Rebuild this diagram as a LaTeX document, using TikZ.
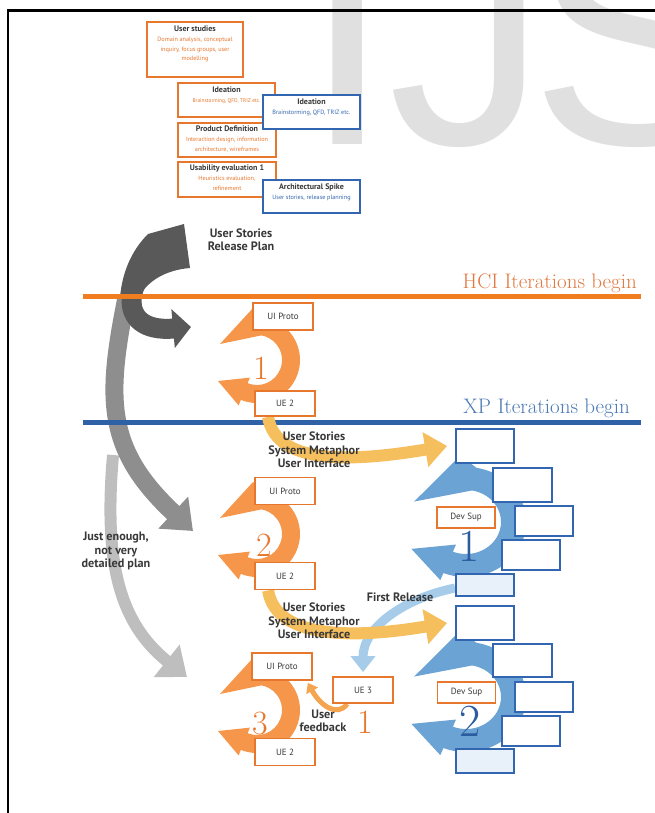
\documentclass[tikz,border=0pt]{standalone}
\usepackage{fontspec}
\newfontfamily\labelfont{PT Sans}
\newfontfamily\wmfont{Liberation Sans}
\usetikzlibrary{arrows.meta,positioning}

\definecolor{boxorange}{HTML}{E8772E}
\definecolor{cycorange}{HTML}{F5964A}
\definecolor{hciorange}{HTML}{F07D1F}
\definecolor{hcitext}{HTML}{E07840}
\definecolor{feedorange}{HTML}{F5A450}
\definecolor{storyyellow}{HTML}{F5BF5E}
\definecolor{xpblue}{HTML}{2E61A6}
\definecolor{xptext}{HTML}{4A78B2}
\definecolor{boxblue}{HTML}{3366B0}
\definecolor{cycblue}{HTML}{6BA3D4}
\definecolor{lightblue}{HTML}{A6CCEA}
\definecolor{paleblue}{HTML}{E8F1FA}
\definecolor{digitblue}{HTML}{2B5C9F}
\definecolor{darkgrey}{HTML}{595959}
\definecolor{midgrey}{HTML}{8E8E8E}
\definecolor{lightgrey}{HTML}{BEBEBE}
\definecolor{wmgrey}{HTML}{E0E0E0}
\definecolor{textgrey}{HTML}{383838}

\pgfdeclarelayer{background}
\pgfsetlayers{background,main}

\newcommand{\phtitle}[1]{{\color{textgrey}\bfseries\fontsize{8}{9}\selectfont #1}}

% one iteration swirl, local pixel offsets (y down)
\tikzset{
  cycle arrow/.pic={
    \fill[pic actions] (-37,-16) -- (-4,-52) -- (-80:43)
      arc[start angle=-80, end angle=112, radius=43] -- (112:49) -- (-39,21)
      -- (112:19) -- (112:25) arc[start angle=112, end angle=-80, radius=25] -- cycle;
  }
}

\begin{document}
\begin{tikzpicture}[x=1pt,y=-1pt,
  phase box/.style={draw=boxorange,line width=2pt,fill=white,inner sep=0pt},
  phase text/.style={inner sep=0pt,align=center,text=boxorange,
    font=\labelfont\fontsize{6.2}{9.6}\selectfont},
  hci box/.style={draw=boxorange,line width=1.8pt,fill=white,minimum width=60pt,
    minimum height=27pt,inner sep=0pt,text=textgrey,font=\labelfont\fontsize{9}{10}\selectfont},
  xp box/.style={draw=boxblue,line width=1.8pt,fill=white,minimum width=58pt,
    minimum height=30pt,inner sep=0pt},
  story text/.style={inner sep=0pt,align=center,text=textgrey,
    font=\labelfont\bfseries\fontsize{12.2}{13.4}\selectfont},
  deco/.style={inner sep=0pt,anchor=base east,font=\fontsize{21}{24}\selectfont},
  digit/.style={inner sep=0pt,text=boxorange,font=\fontsize{34}{34}\selectfont},
  big digit/.style={inner sep=0pt,text=digitblue,font=\fontsize{46}{46}\selectfont},
  wm letter/.style={inner sep=0pt,anchor=base west,text=wmgrey,
    font=\wmfont\fontsize{318}{318}\selectfont}]

\useasboundingbox (0,0) rectangle (655,813);

% phase boxes before the iterations
\node[phase box,minimum width=96pt,minimum height=55pt] (us) at (195,49.5) {};
\node[phase text,below=5pt of us.north] (us text) {\phtitle{User studies}\\Domain analysis, conceptual\\inquiry, focus groups, user\\modelling};
\node[phase box,minimum width=97pt,minimum height=34pt] (idea) at (226.5,100) {};
\node[phase text,font=\labelfont\fontsize{5.4}{9.6}\selectfont,below=5pt of idea.north] (idea text) {\phtitle{Ideation}\\Brainstorming, QFD, TRIZ etc.};
\node[phase box,minimum width=98pt,minimum height=34pt] (prod) at (227,140) {};
\node[phase text,below=4pt of prod.north] (prod text) {\phtitle{Product Definition}\\Interaction design, information\\architecture, wireframes};
\node[phase box,minimum width=98pt,minimum height=35pt] (ueone) at (227,179.5) {};
\node[phase text,below=4pt of ueone.north] (ueone text) {\phtitle{Usability evaluation 1}\\Heuristics evaluation,\\refinement};
\node[phase box,draw=boxblue,minimum width=97pt,minimum height=34pt] (xpidea) at (311.5,112) {};
\node[phase text,text=boxblue,below=5pt of xpidea.north] (xpidea text) {\phtitle{Ideation}\\Brainstorming, QFD, TRIZ etc.};
\node[phase box,draw=boxblue,minimum width=97pt,minimum height=33pt] (spike) at (311.5,196.5) {};
\node[phase text,text=boxblue,below=5pt of spike.north] (spike text) {\phtitle{Architectural Spike}\\User stories, release planning};

% HCI iterations
\node[hci box] (uip1) at (283,316.5) {UI Proto};
\node[hci box,minimum height=25pt] (uetwo1) at (285,403.5) {UE 2};
\node[hci box] (uip2) at (285,491) {UI Proto};
\node[hci box] (uetwo2) at (285,576) {UE 2};
\node[hci box] (uip3) at (282,666.5) {UI Proto};
\node[hci box,minimum height=26pt] (ue3) at (363,690) {UE 3};
\node[hci box] (uetwo3) at (285,752) {UE 2};

% XP iterations
\node[xp box,minimum height=34pt] (xpA1) at (485,446) {};
\node[xp box,minimum width=59pt,minimum height=34pt] (xpB1) at (522.5,485) {};
\node[xp box] (xpC1) at (544,521) {};
\node[xp box] (xpD1) at (531,555) {};
\node[xp box,fill=paleblue,minimum height=22pt] (xpE1) at (485,585) {};
\node[hci box,minimum width=58pt,minimum height=21pt] (dev1) at (466,517.5) {Dev Sup};
\node[xp box,minimum height=34pt] (xpA2) at (485,623) {};
\node[xp box,minimum width=59pt,minimum height=33pt] (xpB2) at (522.5,660.5) {};
\node[xp box] (xpC2) at (544,697) {};
\node[xp box] (xpD2) at (531,731) {};
\node[xp box,fill=paleblue,minimum height=24pt] (xpE2) at (485,761) {};
\node[hci box,minimum width=58pt,minimum height=21pt] (dev2) at (466.5,692.5) {Dev Sup};

% labels
\node[story text] (release) at (241,240) {User Stories\\Release Plan};
\node[story text] (plan) at (116,551) {Just enough,\\not very\\detailed plan};
\node[story text] (stories1) at (314,450) {User Stories\\System Metaphor\\User Interface};
\node[story text] (stories2) at (314,621) {User Stories\\System Metaphor\\User Interface};
\node[story text] (firstrel) at (400,597) {First Release};
\node[story text] (feedback) at (323,721) {User\\feedback};
\node[deco,text=hcitext] (hci title) at (637,288) {HCI Iterations begin};
\node[deco,text=xptext] (xp title) at (630,413) {XP Iterations begin};
\node[digit] (n1) at (261,368) {1};
\node[digit] (n2) at (264,545) {2};
\node[digit] (n3) at (260,724) {3};
\node[digit] (nfb) at (365,722) {1};
\node[big digit] (nx1) at (469,546) {1};
\node[big digit] (nx2) at (470,721) {2};

\begin{pgfonlayer}{background}
  % watermark
  \node[wm letter] (wm i) at (303,145) {I};
  \node[wm letter] (wm j) at (388,145) {J};
  \node[wm letter] (wm s) at (530,145) {S};

  % frame
  \coordinate (frame foot) at (8,813);
  \coordinate (frame corner) at (8,10.7);
  \coordinate (frame end) at (655,10.7);
  \draw[line width=2.7pt] (frame foot) -- (frame corner) -- (frame end);

  % planning arrows
  \coordinate (light start) at (113,455);
  \coordinate (light tip) at (187,677);
  \coordinate (mid start) at (126,300);
  \coordinate (mid tip) at (193,531);
  \coordinate (dark start) at (168,250);
  \coordinate (dark tip) at (191,327);
  \draw[lightgrey,line width=12pt,-{Triangle[length=26pt,width=40pt]}]
    (light start) .. controls (104,560) and (118,622) .. (light tip);
  \draw[midgrey,line width=18pt,-{Triangle[length=27pt,width=42pt]}]
    (mid start) .. controls (106,400) and (106,450) .. (mid tip);
  \fill[darkgrey] (148,234) -- (184,224) -- (190,268) .. controls (165,270) and (145,282) .. (138,300)
    -- (120,298) .. controls (122,272) and (132,250) .. cycle;
  \draw[darkgrey,line width=20pt,-{Triangle[length=18pt,width=38pt]}]
    (dark start) .. controls (125,272) and (112,334) .. (dark tip);

  % iteration lines
  \coordinate (hci west) at (83,296.5);
  \coordinate (hci east) at (641,296.5);
  \coordinate (xp west) at (83,422.5);
  \coordinate (xp east) at (641,422.5);
  \draw[hciorange,line width=5pt] (hci west) -- (hci east);
  \draw[xpblue,line width=5pt] (xp west) -- (xp east);

  % swirls
  \pic[fill=cycorange] at (257,360) {cycle arrow};
  \pic[fill=cycorange] at (257,534) {cycle arrow};
  \pic[fill=cycorange] at (257,710) {cycle arrow};
  \pic[fill=cycblue,xscale=1.4,yscale=1.28] at (466,522) {cycle arrow};
  \pic[fill=cycblue,xscale=1.4,yscale=1.28] at (466,697) {cycle arrow};

  % hand-overs
  \draw[lightblue,line width=9pt,-{Triangle[length=16pt,width=24pt]}]
    ([yshift=-3pt]xpE1.west) .. controls +(-50,10) and +(0,-45) .. ([yshift=4pt]ue3.north);
  \draw[storyyellow,line width=12pt,-{Triangle[length=22pt,width=34pt]}]
    ([xshift=14pt]uetwo1.south west) .. controls +(8,50) and +(-90,15) .. ([xshift=-8pt]xpA1.west);
  \draw[storyyellow,line width=12pt,-{Triangle[length=22pt,width=34pt]}]
    ([xshift=14pt]uetwo2.south west) .. controls +(8,50) and +(-90,15) .. ([xshift=-8pt]xpA2.west);
  \draw[feedorange,line width=5pt,-{Triangle[length=9pt,width=13pt]}]
    ([xshift=15pt]ue3.south west) .. controls +(-10,14) and +(12,22) .. ([xshift=-5pt,yshift=-2pt]uip3.south east);
\end{pgfonlayer}
\end{tikzpicture}
\end{document}
